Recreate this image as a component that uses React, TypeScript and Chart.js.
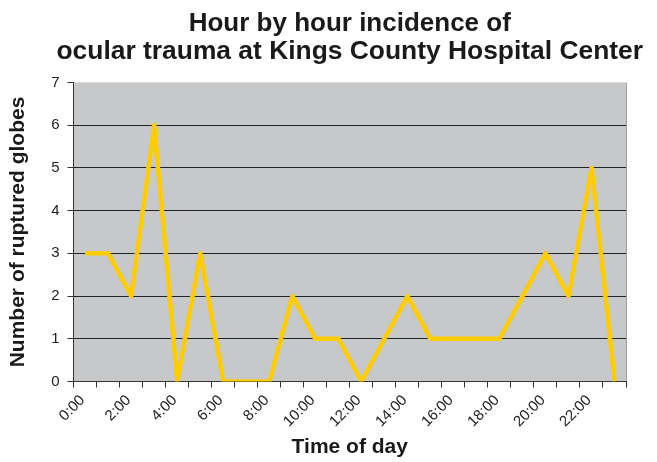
import React, { useEffect, useRef } from "react";
import { Chart, registerables } from "chart.js";

Chart.register(...registerables);

const hours = [
  "0:00", "1:00", "2:00", "3:00", "4:00", "5:00", "6:00", "7:00",
  "8:00", "9:00", "10:00", "11:00", "12:00", "13:00", "14:00", "15:00",
  "16:00", "17:00", "18:00", "19:00", "20:00", "21:00", "22:00", "23:00",
];
const rupturedGlobes = [3, 3, 2, 6, 0, 3, 0, 0, 0, 2, 1, 1, 0, 1, 2, 1, 1, 1, 1, 2, 3, 2, 5, 0];
const xTickLabels = ["0:00", "2:00", "4:00", "6:00", "8:00", "10:00", "12:00", "14:00", "16:00", "18:00", "20:00", "22:00"];
const yTicks = [0, 1, 2, 3, 4, 5, 6, 7];
const titleLine1 = "Hour by hour incidence of";
const titleLine2 = "ocular trauma at Kings County Hospital Center";

const FONT = "'Liberation Sans', Arial, sans-serif";

const plotBg = {
  id: "plotBg",
  afterLayout(chart: any) {
    const a = chart.chartArea;
    const cx = (a.left + a.right) / 2;
    const half = chart.width / 2;
    for (const box of chart.boxes) {
      if (box && box.options && box.options.text !== undefined && typeof box._drawArgs === "function") {
        box.left = cx - half;
        box.right = cx + half;
      }
    }
  },
  beforeDraw(chart: any) {
    const { ctx, chartArea: a } = chart;
    ctx.save();
    ctx.fillStyle = "#c7c8ca";
    ctx.fillRect(a.left, a.top, a.right - a.left, a.bottom - a.top);
    ctx.strokeStyle = "#a0a0a0";
    ctx.lineWidth = 1;
    ctx.beginPath();
    ctx.moveTo(a.right + 0.5, a.top);
    ctx.lineTo(a.right + 0.5, a.bottom);
    ctx.stroke();
    ctx.restore();
  },
};

export default function App() {
  const ref = useRef<HTMLCanvasElement | null>(null);
  useEffect(() => {
    if (!ref.current) return;
    const chart = new Chart(ref.current, {
      type: "line",
      data: {
        datasets: [
          {
            label: "Ruptured globes",
            data: rupturedGlobes.map((v, i) => ({ x: i + 0.5, y: v })),
            borderColor: "#ffcc00",
            borderWidth: 4.5,
            borderJoinStyle: "round",
            pointRadius: 0,
            tension: 0,
            fill: false,
          },
        ],
      },
      options: {
        animation: false,
        responsive: true,
        maintainAspectRatio: false,
        layout: { padding: { left: 6, right: 31, top: 11, bottom: 2 } },
        plugins: {
          legend: { display: false },
          tooltip: { enabled: false },
          title: {
            display: true,
            text: titleLine1,
            color: "#1a1a1a",
            font: { family: FONT, size: 26, weight: "bold", lineHeight: 1.0 },
            padding: { top: 0, bottom: 2 },
          },
          subtitle: {
            display: true,
            text: titleLine2,
            color: "#1a1a1a",
            font: { family: FONT, size: 26.4, weight: "bold", lineHeight: 1.0 },
            padding: { top: 0, bottom: 17 },
          },
        },
        scales: {
          x: {
            type: "linear",
            min: 0,
            max: hours.length,
            grid: {
              drawOnChartArea: false,
              drawTicks: true,
              tickLength: 6,
              tickColor: "#333",
            },
            border: { color: "#333", width: 1 },
            ticks: {
              stepSize: 1,
              autoSkip: false,
              minRotation: 45,
              maxRotation: 45,
              labelOffset: 9,
              color: "#222",
              font: { family: FONT, size: 15 },
              padding: 4,
              callback: (value: any) => {
                const v = Number(value);
                return v % 2 === 0 && v / 2 < xTickLabels.length ? xTickLabels[v / 2] : "";
              },
            },
            title: {
              display: true,
              text: "Time of day",
              color: "#1a1a1a",
              font: { family: FONT, size: 21, weight: "bold" },
              padding: { top: 0, bottom: 0 },
            },
          },
          y: {
            min: yTicks[0],
            max: yTicks[yTicks.length - 1],
            grid: {
              color: (ctx: any) => (ctx.tick && ctx.tick.value === yTicks[yTicks.length - 1] ? "rgba(0,0,0,0)" : "#222"),
              tickColor: "#333",
              tickLength: 6,
              lineWidth: 1,
            },
            border: { color: "#333", width: 1 },
            ticks: {
              stepSize: 1,
              color: "#222",
              font: { family: FONT, size: 15 },
              padding: 8,
            },
            title: {
              display: true,
              text: "Number of ruptured globes",
              color: "#1a1a1a",
              font: { family: FONT, size: 21, weight: "bold" },
              padding: { top: 0, bottom: 12 },
            },
          },
        },
      },
      plugins: [plotBg],
    });
    return () => chart.destroy();
  }, []);
  return (
    <div style={{ position: "absolute", left: 0, top: 0, width: 657, height: 462, background: "#fff" }}>
      <canvas ref={ref} />
    </div>
  );
}
